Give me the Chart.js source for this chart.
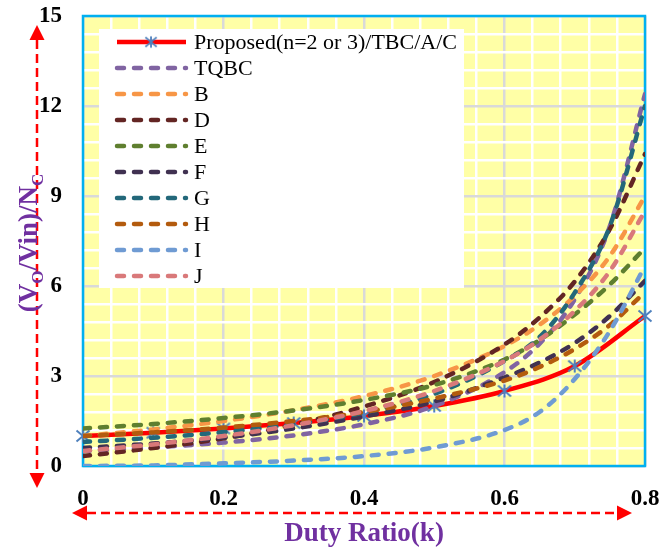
<!DOCTYPE html>
<html>
<head>
<meta charset="utf-8">
<script src="https://cdn.jsdelivr.net/npm/chart.js@4.4.1/dist/chart.umd.min.js"></script>
<style>
  html, body { margin: 0; padding: 0; background: #ffffff; }
  #wrap { width: 670px; height: 549px; }
</style>
</head>
<body>
<div id="wrap"><canvas id="gainChart" width="670" height="549"></canvas></div>
<script>
// duty ratio samples
const kProposed = [0, 0.1, 0.2, 0.3, 0.4, 0.5, 0.6, 0.7, 0.8];
const kValues = [0, 0.1, 0.2, 0.3, 0.4, 0.5, 0.6, 0.65, 0.7, 0.75, 0.8];

// normalised gain (Vo/Vin)/Nc for each converter
const proposedGain = [1, 1.11, 1.25, 1.43, 1.67, 2, 2.5, 3.33, 5];
const tqbcGain = [0.5, 0.62, 0.78, 1.02, 1.39, 2.0, 3.13, 4.08, 5.56, 8.0, 12.4];
const gainB = [1.0, 1.22, 1.5, 1.86, 2.33, 3.0, 4.0, 4.71, 5.67, 7.0, 9.0];
const gainD = [0.33, 0.6, 0.92, 1.38, 1.98, 2.8, 4.05, 4.95, 6.15, 7.9, 10.4];
const gainE = [1.25, 1.4, 1.6, 1.85, 2.2, 2.7, 3.55, 4.2, 5.05, 6.05, 7.27];
const gainF = [0.6, 0.75, 0.95, 1.25, 1.65, 2.15, 2.95, 3.45, 4.1, 5.0, 6.17];
const gainG = [0.8, 0.94, 1.13, 1.39, 1.78, 2.4, 3.5, 4.3, 5.78, 8.0, 12.0];
const gainH = [1.0, 1.12, 1.28, 1.5, 1.8, 2.25, 2.85, 3.3, 3.9, 4.7, 5.8];
const gainI = [0, 0.02, 0.09, 0.18, 0.33, 0.62, 1.2, 1.8, 2.9, 4.5, 6.67];
const gainJ = [0.5, 0.72, 1.0, 1.36, 1.83, 2.5, 3.5, 4.21, 5.17, 6.5, 8.5];

const xTickLabels = ["0", "0.2", "0.4", "0.6", "0.8"];
const yTickLabels = ["0", "3", "6", "9", "12", "15"];

const SERIF = "'Liberation Serif', 'Times New Roman', serif";
const PURPLE = "#7030A0";
const ARROW_RED = "#FF0000";

const toPoints = (xs, ys) => xs.map((x, i) => ({ x: x, y: ys[i] }));

// asterisk marker used by the proposed converter
function asteriskMarker(size, color) {
  const c = document.createElement("canvas");
  c.width = size;
  c.height = size;
  const g = c.getContext("2d");
  const m = size / 2;
  const r = size / 2 - 1.5;
  g.strokeStyle = color;
  g.lineWidth = 2;
  g.beginPath();
  g.moveTo(m - r, m - r * 0.85); g.lineTo(m + r, m + r * 0.85);
  g.moveTo(m - r, m + r * 0.85); g.lineTo(m + r, m - r * 0.85);
  g.moveTo(m, m - r); g.lineTo(m, m + r);
  g.stroke();
  return c;
}
const starMark = asteriskMarker(16, "#4F81BD");

const dashedSeries = [
  { label: "TQBC", values: tqbcGain, color: "#8064A2" },
  { label: "B", values: gainB, color: "#F79646" },
  { label: "D", values: gainD, color: "#632523" },
  { label: "E", values: gainE, color: "#5F7F2F" },
  { label: "F", values: gainF, color: "#403151" },
  { label: "G", values: gainG, color: "#23687A" },
  { label: "H", values: gainH, color: "#B35B0E" },
  { label: "I", values: gainI, color: "#6F9BD3" },
  { label: "J", values: gainJ, color: "#D9797A" }
];

const datasets = [{
  label: "Proposed(n=2 or 3)/TBC/A/C",
  data: toPoints(kProposed, proposedGain),
  borderColor: "#FF0000",
  borderWidth: 4.5,
  pointStyle: starMark,
  pointRadius: 8,
  cubicInterpolationMode: "monotone",
  clip: false,
  order: 20
}].concat(dashedSeries.map((s, i) => ({
  label: s.label,
  data: toPoints(kValues, s.values),
  borderColor: s.color,
  borderWidth: 4.5,
  borderDash: [7, 10],
  borderCapStyle: "round",
  pointRadius: 0,
  cubicInterpolationMode: "monotone",
  order: dashedSeries.length - i
})));

// yellow plot area + blue frame
const plotFrame = {
  id: "plotFrame",
  beforeDraw(chart) {
    const { ctx, chartArea: a } = chart;
    ctx.save();
    ctx.fillStyle = "#ffffff";
    ctx.fillRect(0, 0, chart.width, chart.height);
    ctx.fillStyle = "#FFFFA6";
    ctx.fillRect(a.left, a.top, a.right - a.left, a.bottom - a.top);
    ctx.restore();
  },
  beforeDatasetsDraw(chart) {
    const { ctx, chartArea: a } = chart;
    ctx.save();
    ctx.strokeStyle = "#00B0F0";
    ctx.lineWidth = 2.5;
    ctx.strokeRect(a.left, a.top, a.right - a.left, a.bottom - a.top);
    ctx.restore();
  }
};

function dashedArrow(ctx, x1, y1, x2, y2) {
  const len = Math.hypot(x2 - x1, y2 - y1);
  const ux = (x2 - x1) / len, uy = (y2 - y1) / len;
  const head = 15, half = 7.5;
  ctx.save();
  ctx.strokeStyle = ARROW_RED;
  ctx.fillStyle = ARROW_RED;
  ctx.lineWidth = 2.5;
  ctx.setLineDash([9, 5]);
  ctx.beginPath();
  ctx.moveTo(x1 + ux * head, y1 + uy * head);
  ctx.lineTo(x2 - ux * head, y2 - uy * head);
  ctx.stroke();
  ctx.setLineDash([]);
  [[x1, y1, -1], [x2, y2, 1]].forEach(([tx, ty, d]) => {
    const bx = tx - d * ux * head, by = ty - d * uy * head;
    ctx.beginPath();
    ctx.moveTo(tx, ty);
    ctx.lineTo(bx - uy * half, by + ux * half);
    ctx.lineTo(bx + uy * half, by - ux * half);
    ctx.closePath();
    ctx.fill();
  });
  ctx.restore();
}

// axis arrows and titles
const axisDecor = {
  id: "axisDecor",
  afterDraw(chart) {
    const ctx = chart.ctx;
    dashedArrow(ctx, 37, 25, 37, 488);
    dashedArrow(ctx, 72, 513, 632, 513);

    ctx.save();
    ctx.fillStyle = PURPLE;
    ctx.font = "bold 27px " + SERIF;
    ctx.textAlign = "center";
    ctx.textBaseline = "middle";
    ctx.fillText("Duty Ratio(k)", 364, 534);

    // (Vo/Vin)/Nc, rotated, with subscripts
    const parts = [
      { t: "(V", sub: false }, { t: "O", sub: true },
      { t: "/Vin)/N", sub: false }, { t: "C", sub: true }
    ];
    const big = "bold 27px " + SERIF, small = "bold 17px " + SERIF;
    let total = 0;
    parts.forEach(p => { ctx.font = p.sub ? small : big; total += ctx.measureText(p.t).width; });
    ctx.translate(37, 243);
    ctx.rotate(-Math.PI / 2);
    ctx.textAlign = "left";
    ctx.textBaseline = "alphabetic";
    let x = -total / 2;
    parts.forEach(p => {
      ctx.font = p.sub ? small : big;
      ctx.fillText(p.t, x, p.sub ? 6 : 0);
      x += ctx.measureText(p.t).width;
    });
    ctx.restore();
  }
};

// boxed legend inside the plot
const boxLegend = {
  id: "boxLegend",
  afterDatasetsDraw(chart) {
    const ctx = chart.ctx;
    ctx.save();
    ctx.fillStyle = "#ffffff";
    ctx.fillRect(99, 29, 365, 259);
    ctx.font = "22px " + SERIF;
    ctx.textBaseline = "middle";
    chart.data.datasets.forEach((ds, i) => {
      const y = 42 + i * 26;
      ctx.strokeStyle = ds.borderColor;
      ctx.lineWidth = 4.5;
      if (ds.borderDash) {
        ctx.setLineDash(ds.borderDash);
        ctx.lineCap = "round";
      } else {
        ctx.setLineDash([]);
        ctx.lineCap = "butt";
      }
      ctx.beginPath();
      ctx.moveTo(117, y);
      ctx.lineTo(186, y);
      ctx.stroke();
      if (ds.pointStyle instanceof HTMLCanvasElement) {
        ctx.drawImage(ds.pointStyle, 151 - 7, y - 7, 14, 14);
      }
      ctx.fillStyle = "#000000";
      ctx.fillText(ds.label, 194, y + 1);
    });
    ctx.restore();
  }
};

new Chart(document.getElementById("gainChart").getContext("2d"), {
  type: "line",
  data: { datasets: datasets },
  plugins: [plotFrame, boxLegend, axisDecor],
  options: {
    responsive: false,
    animation: false,
    layout: { padding: { top: 16, right: 25, left: 0, bottom: 0 } },
    plugins: { legend: { display: false }, tooltip: { enabled: false } },
    elements: { line: { tension: 0 } },
    scales: {
      x: {
        type: "linear",
        min: 0,
        max: 0.8,
        afterFit: (scale) => {
          scale.height = 83;
          scale.paddingLeft = 0;
          scale.paddingRight = 0;
        },
        border: { display: false },
        grid: {
          drawTicks: false,
          lineWidth: 2.5,
          color: (c) => (c.index % 5 === 0 ? "#D9D9D9" : "#FFFFFF")
        },
        ticks: {
          stepSize: 0.04,
          autoSkip: false,
          maxRotation: 0,
          padding: 19,
          color: "#000000",
          font: { family: SERIF, size: 23, weight: "bold" },
          callback: (v, i) => (i % 5 === 0 ? xTickLabels[i / 5] : "")
        }
      },
      y: {
        min: 0,
        max: 15,
        afterFit: (scale) => {
          scale.width = 83;
          scale.paddingTop = 0;
          scale.paddingBottom = 0;
        },
        border: { display: false },
        grid: {
          drawTicks: false,
          lineWidth: 2.5,
          color: (c) => (c.index % 5 === 0 ? "#D9D9D9" : "#FFFFFF")
        },
        ticks: {
          stepSize: 0.6,
          autoSkip: false,
          padding: 21,
          color: "#000000",
          font: { family: SERIF, size: 23, weight: "bold" },
          callback: (v, i) => (i % 5 === 0 ? yTickLabels[i / 5] : "")
        }
      }
    }
  }
});
</script>
</body>
</html>
